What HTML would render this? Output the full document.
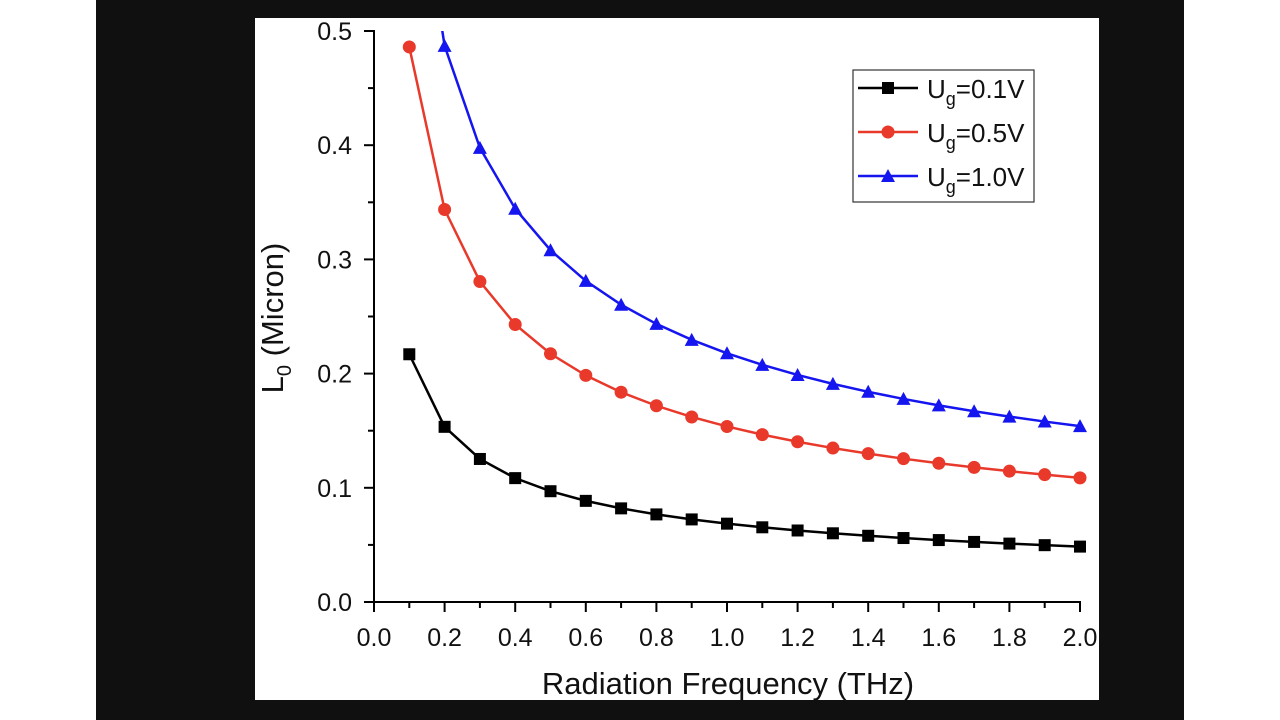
<!DOCTYPE html>
<html><head><style>
html,body{margin:0;padding:0;background:#fff;width:1280px;height:720px;overflow:hidden}
</style></head><body>
<svg width="1280" height="720" xmlns="http://www.w3.org/2000/svg" font-family="Liberation Sans, Arial, sans-serif">
<rect x="0" y="0" width="1280" height="720" fill="#fff"/>
<rect x="96" y="0" width="1088" height="720" fill="#101010"/>
<rect x="255" y="18" width="844" height="682" fill="#fff"/>
<defs><clipPath id="c"><rect x="374" y="31" width="720" height="575"/></clipPath></defs>
<g stroke="#000" stroke-width="2" fill="none">
<line x1="374" y1="30" x2="374" y2="603"/>
<line x1="373" y1="602" x2="1081" y2="602"/>
</g>
<g id="ticks" stroke="#000" stroke-width="2"></g>
<g id="labels" font-size="25" fill="#111"></g>
<g id="series" clip-path="url(#c)"></g>
<text x="728" y="694" font-size="31" text-anchor="middle" fill="#111">Radiation Frequency (THz)</text>
<text transform="translate(283,318) rotate(-90)" font-size="31" text-anchor="middle" fill="#111">L<tspan font-size="20" dy="8">0</tspan><tspan dy="-8"> (Micron)</tspan></text>
<rect x="853" y="70" width="181" height="132" fill="#fff" stroke="#333" stroke-width="1.2"/>
<line x1="858" y1="88" x2="918" y2="88" stroke="#000" stroke-width="2.5"/>
<rect x="882" y="82" width="12" height="12" fill="#000"/>
<line x1="858" y1="132" x2="918" y2="132" stroke="#e8392b" stroke-width="2.5"/>
<circle cx="888" cy="132" r="6.5" fill="#e8392b"/>
<line x1="858" y1="176" x2="918" y2="176" stroke="#1515f0" stroke-width="2.5"/>
<polygon points="888,169 895,182 881,182" fill="#1515f0"/>
<g font-size="26" fill="#111">
<text x="927" y="98">U<tspan font-size="18" dy="7">g</tspan><tspan dy="-7">=0.1V</tspan></text>
<text x="927" y="142">U<tspan font-size="18" dy="7">g</tspan><tspan dy="-7">=0.5V</tspan></text>
<text x="927" y="186">U<tspan font-size="18" dy="7">g</tspan><tspan dy="-7">=1.0V</tspan></text>
</g>
<script>
var NS="http://www.w3.org/2000/svg";
function X(f){return 374+f*353}
function Y(v){return 602-v*1142}
function el(p,t,a,txt){var e=document.createElementNS(NS,t);for(var k in a)e.setAttribute(k,a[k]);if(txt!==undefined)e.textContent=txt;document.getElementById(p).appendChild(e);return e}
for(var i=0;i<=10;i++){var v=i*0.05,y=Y(v),maj=i%2==0;
 el("ticks","line",{x1:374,y1:y,x2:maj?364:368,y2:y});
 if(maj)el("labels","text",{x:352,y:y+9,"text-anchor":"end"},(v).toFixed(1));}
for(var i=0;i<=20;i++){var f=i*0.1,x=X(f),maj=i%2==0;
 el("ticks","line",{x1:x,y1:602,x2:x,y2:maj?612:608});
 if(maj)el("labels","text",{x:x,y:646,"text-anchor":"middle"},f.toFixed(1));}
var S=[[0.0686,"#000","sq"],[0.1537,"#e8392b","ci"],[0.2178,"#1515f0","tr"]];
S.forEach(function(s){var pts=[];for(var i=1;i<=20;i++){var f=i/10;pts.push([X(f),Y(s[0]/Math.sqrt(f))]);}
 el("series","polyline",{points:pts.map(function(p){return p.join(",")}).join(" "),fill:"none",stroke:s[1],"stroke-width":2.5});
 pts.forEach(function(p){if(s[2]=="sq")el("series","rect",{x:p[0]-6,y:p[1]-6,width:12,height:12,fill:s[1]});
 else if(s[2]=="ci")el("series","circle",{cx:p[0],cy:p[1],r:6.5,fill:s[1]});
 else el("series","polygon",{points:p[0]+","+(p[1]-7)+" "+(p[0]+7)+","+(p[1]+6)+" "+(p[0]-7)+","+(p[1]+6),fill:s[1]});});});
</script>
</svg>
</body></html>
